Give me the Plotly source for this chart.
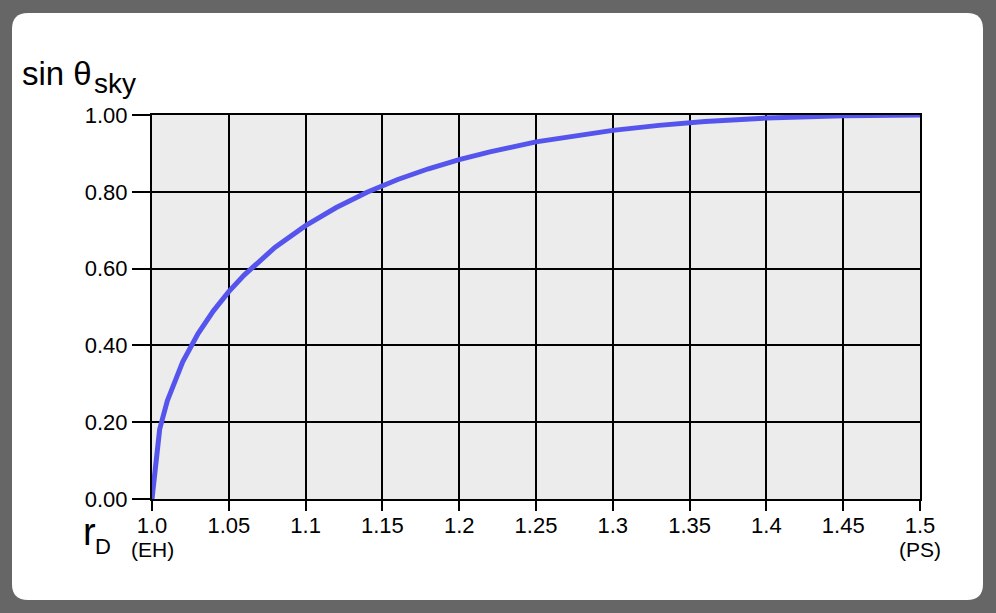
import plotly.graph_objects as go

# data
r_D = [1.0, 1.005, 1.01, 1.02, 1.03, 1.04, 1.05, 1.06, 1.08, 1.10, 1.12, 1.14,
       1.16, 1.18, 1.20, 1.22, 1.25, 1.28, 1.30, 1.33, 1.36, 1.40, 1.45, 1.50]
sin_theta_sky = [0.0, 0.182, 0.256, 0.357, 0.431, 0.490, 0.540, 0.583, 0.655,
                 0.712, 0.759, 0.799, 0.832, 0.860, 0.884, 0.904, 0.930, 0.949,
                 0.960, 0.973, 0.983, 0.992, 0.998, 1.000]

x_tick_vals = [1.0, 1.05, 1.1, 1.15, 1.2, 1.25, 1.3, 1.35, 1.4, 1.45, 1.5]
x_tick_text = ["1.0", "1.05", "1.1", "1.15", "1.2", "1.25", "1.3", "1.35", "1.4", "1.45", "1.5"]
y_tick_vals = [0.0, 0.2, 0.4, 0.6, 0.8, 1.0]

W, H = 996, 613
L, R, T, B = 152, 920, 115, 499  # plot area in pixels
FONT = "Liberation Sans, Arial, sans-serif"


def px(xp):
    return (xp - L) / (R - L)


def py(yp):
    return (B - yp) / (B - T)


def rounded_rect(x0, y0, x1, y1, r):
    pts = [
        f"M {px(x0 + r)} {py(y0)}",
        f"L {px(x1 - r)} {py(y0)}",
        f"Q {px(x1)} {py(y0)} {px(x1)} {py(y0 + r)}",
        f"L {px(x1)} {py(y1 - r)}",
        f"Q {px(x1)} {py(y1)} {px(x1 - r)} {py(y1)}",
        f"L {px(x0 + r)} {py(y1)}",
        f"Q {px(x0)} {py(y1)} {px(x0)} {py(y1 - r)}",
        f"L {px(x0)} {py(y0 + r)}",
        f"Q {px(x0)} {py(y0)} {px(x0 + r)} {py(y0)}",
        "Z",
    ]
    return " ".join(pts)


fig = go.Figure()
fig.add_trace(go.Scatter(
    x=r_D, y=sin_theta_sky, mode="lines",
    line=dict(color="#5555ee", width=5),
    cliponaxis=False, hoverinfo="skip", showlegend=False,
))

shapes = [
    dict(type="path", xref="paper", yref="paper", layer="below",
         path=rounded_rect(12, 13, 983, 600, 16),
         fillcolor="white", line=dict(width=0)),
    dict(type="rect", xref="x", yref="y", layer="below",
         x0=x_tick_vals[0], x1=x_tick_vals[-1], y0=y_tick_vals[0], y1=y_tick_vals[-1],
         fillcolor="#ececec", line=dict(width=0)),
]


def ann(text, xp, yp, size, xanchor="left"):
    return dict(text=text, xref="paper", yref="paper", x=px(xp), y=py(yp),
                xanchor=xanchor, yanchor="middle", showarrow=False,
                font=dict(family=FONT, size=size, color="black"))


annotations = [
    ann("sin θ", 20, 73, 33),
    ann("sky", 92, 84, 28),
    ann("r", 81, 532, 38),
    ann("D", 93, 546, 22),
    ann("(EH)", 152, 549, 21, "center"),
    ann("(PS)", 920, 549, 21, "center"),
]

fig.update_layout(
    width=W, height=H,
    margin=dict(l=L, r=W - R, t=T, b=H - B),
    paper_bgcolor="#666666",
    plot_bgcolor="rgba(0,0,0,0)",
    shapes=shapes,
    annotations=annotations,
    font=dict(family=FONT, size=22, color="black"),
    xaxis=dict(range=[1.0, 1.5], tickvals=x_tick_vals, ticktext=x_tick_text,
               showgrid=True, gridcolor="black", gridwidth=2,
               showline=True, linecolor="black", linewidth=2, mirror=True,
               ticks="outside", ticklen=10, tickwidth=2, tickcolor="black",
               ticklabelstandoff=-4,
               zeroline=False, tickfont=dict(size=22)),
    yaxis=dict(range=[0, 1], tickvals=y_tick_vals, tickformat=".2f",
               showgrid=True, gridcolor="black", gridwidth=2,
               showline=True, linecolor="black", linewidth=2, mirror=True,
               ticks="outside", ticklen=18, tickwidth=2, tickcolor="black",
               zeroline=False, tickfont=dict(size=22)),
)

fig.write_html(
    "out.html",
    config={"displayModeBar": False},
    post_script="document.body.style.margin='0';document.body.style.overflow='hidden';",
)
